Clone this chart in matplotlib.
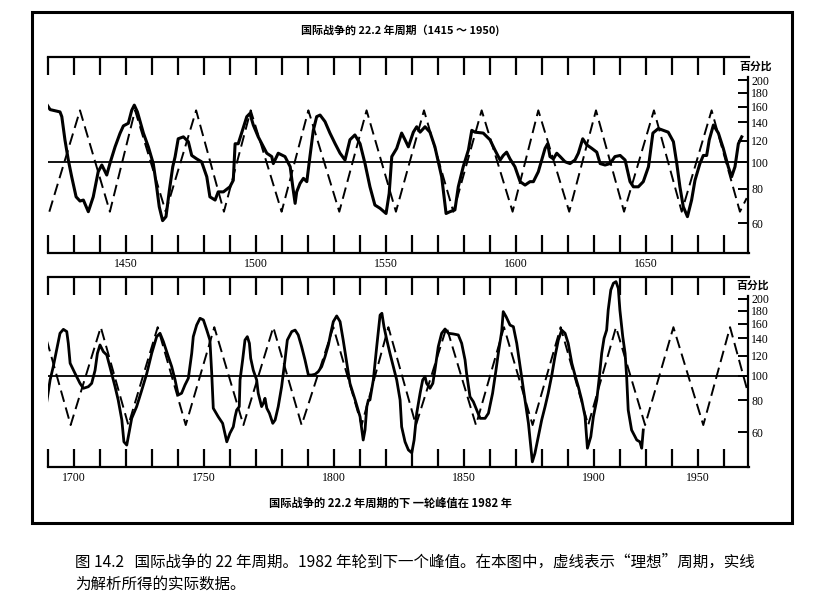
import matplotlib
matplotlib.use('Agg')
import matplotlib.pyplot as plt
from matplotlib.patches import Rectangle
from matplotlib.ticker import NullLocator, FixedLocator, FixedFormatter

CJK = ['Noto Sans CJK SC', 'DejaVu Sans']
NUM = 'Liberation Serif'

# --- top panel: 1420-1690 ---
top_years = [1419.4, 1420.7, 1424.5, 1425.2, 1426.4, 1427.7, 1429.0, 1430.7, 1432.2, 1433.5,
             1435.4, 1437.3, 1439.2, 1440.6, 1442.5, 1443.7, 1445.7, 1447.6, 1448.9, 1450.8,
             1452.1, 1453.1, 1454.3, 1456.6, 1458.5, 1460.4, 1461.7, 1462.7, 1464.0, 1465.3,
             1466.6, 1467.9, 1468.8, 1470.0, 1472.0, 1473.9, 1475.2, 1477.1, 1479.0, 1481.0,
             1482.2, 1484.2, 1485.4, 1487.4, 1489.9, 1491.2, 1491.9, 1493.1, 1494.4, 1496.4,
             1497.6, 1498.9, 1500.8, 1502.8, 1504.1, 1506.0, 1506.6, 1508.5, 1511.1, 1513.1,
             1514.1, 1515.0, 1515.6, 1516.9, 1518.2, 1519.5, 1520.7, 1522.0, 1523.3, 1524.6,
             1526.5, 1528.4, 1530.4, 1532.3, 1534.2, 1536.1, 1538.0, 1540.0, 1541.9, 1543.8,
             1545.7, 1547.7, 1550.0, 1551.2, 1552.2, 1554.1,
             1556.0, 1557.3, 1558.6, 1560.5, 1561.8, 1563.1, 1565.0, 1566.9, 1568.8, 1570.1,
             1571.4, 1573.1, 1574.6, 1576.5, 1577.8, 1579.7, 1581.7, 1583.0, 1584.2, 1587.4,
             1590.0, 1591.9, 1593.9, 1595.1, 1596.4, 1597.7, 1599.6, 1601.6, 1603.5, 1605.4,
             1606.7, 1608.6, 1609.9, 1611.2, 1612.2, 1613.1, 1614.4, 1615.7, 1617.0, 1618.9,
             1620.8, 1622.7, 1624.0, 1625.7, 1627.2, 1629.2, 1631.1, 1632.4, 1634.3, 1636.2,
             1638.1, 1640.1, 1642.0, 1643.9, 1645.2, 1647.1, 1649.0, 1651.0, 1652.7, 1654.8,
             1656.7, 1658.6, 1660.6, 1661.9, 1663.1, 1664.4, 1666.0, 1667.6, 1668.9, 1670.8,
             1672.1, 1673.4, 1674.4, 1676.0, 1677.9, 1679.8, 1681.7, 1683.0, 1684.3, 1685.6,
             1686.9]
top_actual = [163, 156, 153, 147, 121, 102, 88.6, 74.8, 72.2, 72.8,
              66, 74.8, 92.4, 97.8, 89.9, 99, 114, 127.7, 136, 139,
              155, 162, 153, 128, 114, 99, 81.4, 68.8, 61.2, 63.3,
              79, 96.4, 104.8, 122, 124, 119, 106, 103, 100.5, 88.6,
              74.8, 72.8, 78, 78, 81.4, 86, 117, 117, 128, 147,
              151, 137, 124, 114, 108, 105, 99, 108, 105, 96.4,
              81.4, 70.8, 78, 83.8, 87.4, 85, 105, 131, 147, 149,
              141, 128, 117, 108, 102, 121, 126, 117, 99, 81.4,
              69.8, 67.9, 65, 77, 105, 112.5,
              128, 121, 114, 129, 135, 129, 135, 129, 114, 100.5,
              88.6, 65, 66, 67, 81.4, 96.4, 111, 131, 129, 128,
              121, 111, 102, 106, 109, 103, 96.4, 85, 82.6, 85,
              85, 92.4, 102, 112.5, 117, 105, 103, 108, 105, 100.5,
              99, 102, 108, 122, 116, 112.5, 109, 99, 97.8, 99,
              105, 106, 102, 85, 81.4, 81.4, 85, 96.4, 128, 133,
              131, 129, 119, 99, 81.4, 68.8, 63.3, 72.8, 86, 99,
              106, 106, 121, 137, 128, 112.5, 96.4, 88.6, 96.4, 117,
              124]
top_ideal_years = [1420.4, 1432.2, 1443.7, 1453.4, 1465.2, 1476.9, 1487.6, 1497.9, 1509.8,
                   1520.1, 1532.0, 1542.5, 1553.8, 1564.6, 1575.9, 1586.8, 1598.7, 1608.6,
                   1620.5, 1630.8, 1641.6, 1653.1, 1663.8, 1675.3, 1686.2, 1688.8]
top_ideal = [66, 155, 66, 155, 66, 155, 66, 155, 66, 155, 66, 155, 66,
             155, 66, 155, 66, 155, 66, 155, 66, 155, 66, 155, 66, 74]

# --- bottom panel: 1690-1960 ---
bot_years = [1689.4, 1690.7, 1691.9, 1693.2, 1694.5, 1695.8, 1697.1, 1697.7, 1698.4, 1700.3,
             1702.2, 1703.5, 1705.4, 1706.7, 1708.0, 1708.9, 1709.9, 1711.2, 1712.5, 1713.7,
             1715.7, 1716.9, 1718.3, 1719.1, 1720.2, 1720.8, 1722.1, 1724.0, 1726.0, 1727.9,
             1729.8, 1731.7, 1733.0, 1734.3, 1736.2, 1737.5, 1738.8, 1740.0, 1741.3, 1742.6,
             1743.9, 1745.2, 1745.8, 1747.1, 1748.4, 1749.7, 1751.0, 1752.2, 1752.9, 1753.5,
             1755.4, 1757.1, 1758.7, 1759.9, 1761.2, 1761.9, 1762.5, 1763.5, 1763.8, 1764.8,
             1765.7, 1766.6, 1767.4, 1767.9, 1768.9, 1770.2, 1770.8, 1772.1, 1772.8, 1773.4,
             1774.1, 1775.1, 1776.4, 1777.3, 1778.5, 1779.8, 1781.1, 1782.0, 1783.7, 1785.0,
             1786.2, 1787.5, 1788.8, 1790.1, 1791.4, 1792.7, 1793.9, 1795.2, 1796.5, 1797.8,
             1798.7, 1799.7, 1801.0, 1802.3, 1803.5, 1804.9, 1806.1, 1808.1, 1810.0, 1811.2,
             1811.9, 1812.6, 1813.2, 1813.8, 1815.1, 1816.4, 1817.7, 1818.4, 1819.2, 1820.3,
             1821.5, 1822.8, 1824.1, 1825.4,
             1826.0, 1827.3, 1828.6, 1829.9, 1830.8, 1831.8, 1833.1, 1834.1, 1835.0, 1835.6,
             1836.9, 1838.0, 1838.8, 1840.1, 1841.4, 1842.7, 1844.0, 1845.9, 1847.8, 1849.1,
             1850.4, 1851.0, 1852.3, 1853.6, 1854.9, 1856.2, 1858.1, 1859.4, 1861.0, 1862.3,
             1863.2, 1864.5, 1865.1, 1866.2, 1867.7, 1869.0, 1870.3, 1871.6, 1873.1, 1874.8,
             1876.3, 1877.3, 1878.6, 1879.9, 1881.2, 1882.4, 1883.8, 1885.0, 1886.3, 1887.6,
             1888.9, 1890.1, 1891.5, 1892.7, 1894.0, 1895.3, 1896.6, 1897.5, 1898.8, 1899.8,
             1901.1, 1902.1, 1903.0, 1903.9, 1904.9, 1905.5, 1906.5, 1907.5, 1908.5, 1909.4,
             1910.0, 1911.1, 1912.0, 1912.6, 1913.2, 1914.5, 1916.5, 1917.7, 1918.4, 1919.0]
bot_actual = [79, 96.2, 108.5, 126, 146.7, 152, 149, 134, 111.9, 102,
              93.3, 89.2, 90.5, 93.3, 105, 122.4, 132, 124.2, 120.6, 108.5,
              90.5, 80.3, 67, 55, 53.4, 57.6, 68, 75.6, 87.9, 102,
              122.4, 142.3, 146.7, 136, 118.7, 108.5, 96.2, 84, 85.3, 91.9,
              97.7, 122.4, 142.3, 158, 168, 165.5, 151, 138, 102, 74.5,
              69, 65, 55, 59.4, 63, 69, 73.3, 75.6, 96.2, 115.3,
              138, 142.3, 134, 117, 105, 96.2, 85.3, 75.6, 78, 81.5,
              74.5, 71.2, 65, 67, 75.6, 90.5, 115.3, 138, 149, 151,
              144.5, 130, 115.3, 100.6, 100.6, 101.3, 103.7, 108.5, 118.7, 132,
              146.7, 163, 171.6, 163, 138, 111.9, 93.3, 80.3, 69, 55.9,
              61.2, 75.6, 80.3, 80.3, 96.2, 130, 173, 175.8, 155.7, 138,
              122.4, 108.5, 96.2, 80.3,
              63, 55, 51.1, 49.8, 55.9, 71.2, 85.3, 96.2, 99.1, 93.3,
              89.2, 93.3, 105, 130, 146.7, 152.5, 146.7, 145.8, 144.5, 134,
              115.3, 102, 82.7, 79, 73.3, 68, 68, 71.2, 85.3, 105,
              122.4, 149, 178.4, 170.5, 158, 155.7, 134, 108.5, 85.3, 65,
              45.9, 49.6, 57.6, 67, 75.6, 85.3, 100.6, 118.7, 138, 151,
              146.7, 134, 111.9, 100.6, 90.5, 80.3, 69, 51.9, 57.6, 69,
              80.3, 99.1, 122.4, 140.2, 151, 181, 217, 230.6, 234, 220,
              181, 142.3, 122.4, 99.1, 73.3, 61.2, 55.9, 55, 51.9, 61.2]
bot_ideal_years = [1689.4, 1698.6, 1710.2, 1720.8, 1732.1, 1742.9, 1753.9, 1765.1, 1776.6,
                   1787.5, 1799.7, 1810.6, 1820.9, 1831.5, 1843.3, 1854.6, 1865.4, 1876.4,
                   1887.2, 1897.8, 1908.5, 1919.7, 1930.6, 1942.1, 1952.4, 1959.4]
bot_ideal = [138, 64, 155, 64, 155, 64, 155, 64, 155, 64, 155, 64, 155,
             64, 155, 64, 155, 64, 155, 64, 155, 64, 155, 64, 155, 85]

pct_ticks = [60, 80, 100, 120, 140, 160, 180, 200]
top_xlabels = ['1450', '1500', '1550', '1600', '1650']
top_xlabel_pos = [1450, 1500, 1550, 1600, 1650]
# the printed "1950" sits one tick early in the original
bot_xlabels = ['1700', '1750', '1800', '1850', '1900', '1950']
bot_xlabel_pos = [1700, 1750, 1800, 1850, 1900, 1940]

W, H = 829, 606
fig = plt.figure(figsize=(W / 100, H / 100), dpi=100)
fig.patch.set_facecolor('white')


def px_box(left, top, right, bottom):
    return [left / W, 1 - bottom / H, (right - left) / W, (bottom - top) / H]


def setup(ax, x0, x1, ylo, yhi, lab_pos, labs):
    ax.set_xlim(x0, x1)
    ax.set_yscale('log')
    ax.set_ylim(ylo, yhi)
    ax.spines['left'].set_visible(False)
    for s in ['top', 'bottom', 'right']:
        ax.spines[s].set_linewidth(1.6)
    ax.spines['right'].set_bounds(ylo, 205)
    ax.xaxis.set_major_locator(FixedLocator(list(range(int(x0), int(x1) + 1, 10))))
    ax.xaxis.set_minor_locator(NullLocator())
    ax.set_xticklabels([])
    ax.tick_params(axis='x', which='major', direction='in', top=True, bottom=True,
                   length=13, width=1.6, labelbottom=False)
    ax.yaxis.tick_right()
    ax.yaxis.set_major_locator(FixedLocator(pct_ticks))
    ax.yaxis.set_major_formatter(FixedFormatter([str(v) for v in pct_ticks]))
    ax.yaxis.set_minor_locator(NullLocator())
    ax.tick_params(axis='y', which='major', direction='in', length=7, width=1.4,
                   pad=2, labelsize=8.5, left=False, right=True)
    for t in ax.get_yticklabels():
        t.set_fontfamily(NUM)
    ax.axhline(100, color='black', lw=1.3)
    for p, s in zip(lab_pos, labs):
        ax.text(p, -0.025, s, transform=ax.get_xaxis_transform(), ha='center', va='top',
                fontsize=8.5, family=NUM)


ax1 = fig.add_axes(px_box(48.3, 57, 748.5, 253))
setup(ax1, 1420, 1689.5, 46.6, 243, top_xlabel_pos, top_xlabels)
ax1.plot(top_ideal_years, top_ideal, color='black', lw=1.4, ls=(0, (6, 3)))
ax1.plot(top_years, top_actual, color='black', lw=2.2, solid_joinstyle='round')

ax2 = fig.add_axes(px_box(48.3, 277, 748.5, 467))
setup(ax2, 1690, 1959.5, 43.8, 244, bot_xlabel_pos, bot_xlabels)
ax2.plot(bot_ideal_years, bot_ideal, color='black', lw=1.4, ls=(0, (6, 3)))
ax2.plot(bot_years, bot_actual, color='black', lw=2.0, solid_joinstyle='round')

fig.text(756 / W, 1 - 66 / H, '百分比', ha='center', va='center', fontsize=7.8,
         fontweight='bold', family=CJK)
fig.text(753 / W, 1 - 285 / H, '百分比', ha='center', va='center', fontsize=7.8,
         fontweight='bold', family=CJK)

fig.text(400 / W, 1 - 30 / H, '国际战争的 22.2 年周期（1415 ～ 1950)', ha='center',
         va='center', fontsize=7.9, fontweight='bold', family=CJK)
fig.text(391 / W, 1 - 503 / H, '国际战争的 22.2 年周期的下 一轮峰值在 1982 年',
         ha='center', va='center', fontsize=8.1, fontweight='bold', family=CJK)

# outer frame
fig.add_artist(Rectangle((32 / W, 1 - 523 / H), (792 - 32) / W, (523 - 12) / H,
                         transform=fig.transFigure, fill=False, lw=2.2, color='black'))

fig.text(75 / W, 1 - 562 / H,
         '图 14.2   国际战争的 22 年周期。1982 年轮到下一个峰值。在本图中，虚线表示“理想”周期，实线',
         ha='left', va='center', fontsize=11.2, family=CJK)
fig.text(75 / W, 1 - 584 / H, '为解析所得的实际数据。', ha='left', va='center',
         fontsize=11.2, family=CJK)

fig.savefig('out.png', dpi=100)
